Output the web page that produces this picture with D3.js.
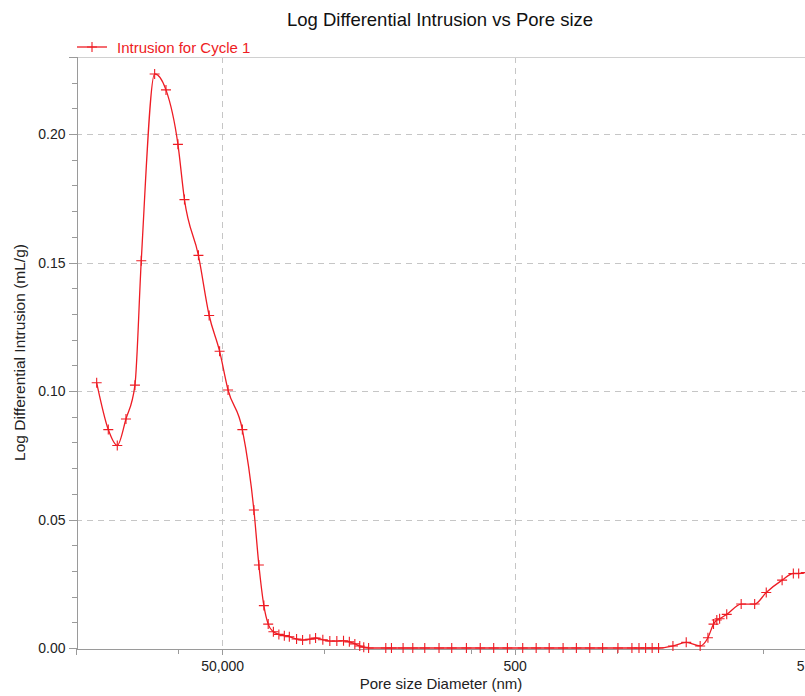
<!DOCTYPE html>
<html>
<head>
<meta charset="utf-8">
<script src="https://cdn.jsdelivr.net/npm/d3@7"></script>
<style>
  html, body { margin: 0; padding: 0; background: #fff; overflow: hidden; }
  svg { display: block; font-family: Arial, "Liberation Sans", Helvetica, sans-serif; }
</style>
</head>
<body>
<svg id="chart" width="805" height="696"></svg>
<script>
// Pore size diameter (nm), largest to smallest
const poreDiameter = [
  361000, 300700, 261000, 227600, 197600, 178900, 144900, 121200, 100400, 90600,
  72700, 61400, 52100, 45600, 36400, 30350, 28060, 25940, 24230, 22330,
  20480, 18790, 17370, 15500, 14100, 12570, 11490, 10250, 9180, 8220,
  7400, 6750, 6190, 5730, 5380, 4984, 3802, 3477, 2896, 2485,
  2058, 1644, 1346, 1068, 859, 695, 560, 440, 356, 290,
  233, 189, 153, 125, 98.2, 78.8, 70.5, 63.5, 57.3, 51.8,
  41.3, 33.5, 26.9, 23.8, 21.8, 20.7, 19.8, 17.7, 14.1, 11.4,
  9.5, 7.4, 6.2, 5.7, 5.1
];

// Log differential intrusion (mL/g), intrusion for cycle 1
const logDiffIntrusion = [
  0.1032, 0.0850, 0.0788, 0.0891, 0.1023, 0.1507, 0.2234, 0.2172, 0.1960, 0.1745,
  0.1528, 0.1294, 0.1155, 0.1004, 0.0850, 0.0537, 0.0323, 0.0165, 0.0093, 0.0063,
  0.0053, 0.0048, 0.0044, 0.0035, 0.0031, 0.0034, 0.0039, 0.0032, 0.0027, 0.0027,
  0.0028, 0.0024, 0.0016, 0.0008, 0.0003, 0, 0, 0, 0, 0,
  0, 0, 0, 0, 0, 0, 0, 0, 0, 0,
  0, 0, 0, 0, 0, 0, 0, 0, 0, 0,
  0.0008, 0.0022, 0.0008, 0.0040, 0.0093, 0.0109, 0.0114, 0.0131, 0.0171, 0.0171,
  0.0216, 0.0264, 0.0290, 0.0290, 0.0294
];

const xLabelTicks = [50000, 500, 5];
const xMinorTicks = [100000, 10000, 1000, 100, 10];
const yLabelTicks = [0, 0.05, 0.10, 0.15, 0.20];
const yMinorTicks = [0.01, 0.02, 0.03, 0.04, 0.06, 0.07, 0.08, 0.09, 0.11, 0.12, 0.13, 0.14,
                     0.16, 0.17, 0.18, 0.19, 0.21, 0.22];

const seriesName = "Intrusion for Cycle 1";
const titleText = "Log Differential Intrusion vs Pore size";
const xTitle = "Pore size Diameter (nm)";
const yTitle = "Log Differential Intrusion (mL/g)";

const points = poreDiameter.map((d, i) => ({ d, v: logDiffIntrusion[i] }));

const red = "#ee1c24";
const axisColor = "#9a9a9a";
const gridColor = "#c6c6c6";

const W = 805;
const plot = { left: 76, right: 807, top: 57, bottom: 648 };

const x = d3.scaleLog().domain([500000, 5]).range([plot.left, plot.right]);
const y = d3.scaleLinear().domain([0, 0.23]).range([plot.bottom, plot.top]);

const svg = d3.select("#chart");

// grid
const grid = svg.append("g").attr("stroke", gridColor).attr("stroke-width", 1)
  .attr("stroke-dasharray", "6,5").attr("shape-rendering", "crispEdges");
grid.selectAll("line.h").data(yLabelTicks.filter(t => t > 0)).join("line")
  .attr("class", "h")
  .attr("x1", plot.left).attr("x2", plot.right)
  .attr("y1", d => Math.round(y(d)) + 0.5).attr("y2", d => Math.round(y(d)) + 0.5);
grid.selectAll("line.v").data(xLabelTicks).join("line")
  .attr("class", "v")
  .attr("x1", d => Math.round(x(d)) + 0.5).attr("x2", d => Math.round(x(d)) + 0.5)
  .attr("y1", plot.top).attr("y2", plot.bottom);

// top frame line
svg.append("line")
  .attr("x1", plot.left).attr("x2", plot.right)
  .attr("y1", plot.top + 0.5).attr("y2", plot.top + 0.5)
  .attr("stroke", "#d0d0d0").attr("shape-rendering", "crispEdges");

// y axis
svg.append("g").attr("transform", `translate(${plot.left + 0.5},0)`)
  .call(d3.axisLeft(y).tickValues(yLabelTicks).tickFormat(d3.format(".2f")).tickSize(8).tickPadding(3));
svg.append("g").attr("transform", `translate(${plot.left + 0.5},0)`)
  .call(d3.axisLeft(y).tickValues(yMinorTicks).tickFormat("").tickSize(5))
  .call(g => g.select(".domain").remove());

// x axis
const xAxis = svg.append("g").attr("transform", `translate(0,${plot.bottom + 0.5})`)
  .call(d3.axisBottom(x).tickValues(xLabelTicks).tickFormat(d3.format(",")).tickSize(6).tickPadding(7));
svg.append("g").attr("transform", `translate(0,${plot.bottom + 0.5})`)
  .call(d3.axisBottom(x).tickValues(xMinorTicks).tickFormat("").tickSize(5))
  .call(g => g.select(".domain").remove());

svg.selectAll(".domain, .tick line").attr("stroke", axisColor).attr("shape-rendering", "crispEdges");
svg.selectAll(".tick text").attr("font-size", 14).attr("fill", "#222")
  .attr("font-family", "Arial, 'Liberation Sans', sans-serif");

// the last label sits at the page's right edge: right-align it to stay inside
xAxis.selectAll(".tick text").filter(d => x(d) > W - 6)
  .attr("text-anchor", "end").attr("x", d => W - 0.5 - x(d) - 0.5);

// series line
const line = d3.line().x(p => x(p.d)).y(p => y(p.v)).curve(d3.curveMonotoneX);
svg.append("path").datum(points)
  .attr("d", line).attr("fill", "none").attr("stroke", red).attr("stroke-width", 1.3);

// plus markers
const plus = "M-5,0H5M0,-5V5";
svg.append("g").selectAll("path").data(points).join("path")
  .attr("transform", p => `translate(${x(p.d)},${y(p.v)})`)
  .attr("d", plus).attr("stroke", red).attr("stroke-width", 1.1).attr("fill", "none");

// title
svg.append("text").attr("x", 440).attr("y", 26).attr("text-anchor", "middle")
  .attr("font-size", 18.5).attr("fill", "#111").text(titleText);

// legend
const lg = svg.append("g").attr("transform", "translate(77,47)");
lg.append("line").attr("x1", 0).attr("x2", 30).attr("y1", 0).attr("y2", 0)
  .attr("stroke", red).attr("stroke-width", 1.3);
lg.append("path").attr("transform", "translate(15,0)").attr("d", plus)
  .attr("stroke", red).attr("stroke-width", 1.1);
lg.append("text").attr("x", 40).attr("y", 6).attr("font-size", 15).attr("fill", red).text(seriesName);

// axis titles
svg.append("text").attr("x", 441).attr("y", 689).attr("text-anchor", "middle")
  .attr("font-size", 15).attr("fill", "#222").text(xTitle);
svg.append("text").attr("transform", `translate(25,${(plot.top + plot.bottom) / 2}) rotate(-90)`)
  .attr("text-anchor", "middle").attr("font-size", 15.5).attr("fill", "#222").text(yTitle);
</script>
</body>
</html>
